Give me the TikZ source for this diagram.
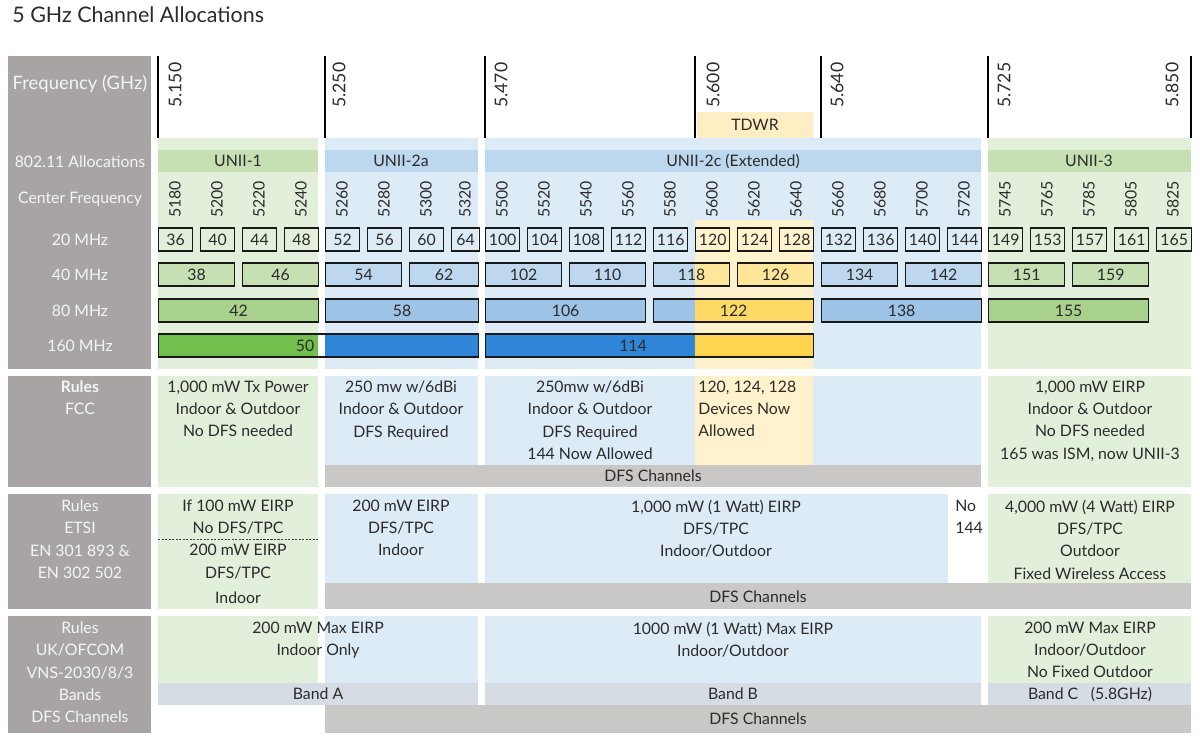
\documentclass[tikz,border=0pt]{standalone}
\usepackage{fontspec}
\setmainfont{Lato}
\usepackage{tikz}

\definecolor{sidegrey}{HTML}{A8A4A4}
\definecolor{sidetxt}{HTML}{F5F5F5}
\definecolor{dfsgrey}{HTML}{CAC7C7}
\definecolor{bandgrey}{HTML}{D6DCE4}
\definecolor{txt}{HTML}{2B2B2B}
\definecolor{gbg}{HTML}{E2EFDA}
\definecolor{gbar}{HTML}{C6E0B4}
\definecolor{geighty}{HTML}{A9D18E}
\definecolor{gwide}{HTML}{72BF4E}
\definecolor{bbg}{HTML}{DDEBF7}
\definecolor{bbar}{HTML}{BDD7EE}
\definecolor{beighty}{HTML}{9DC3E6}
\definecolor{bwide}{HTML}{2F85D8}
\definecolor{ybg}{HTML}{FFF2CC}
\definecolor{ytdwr}{HTML}{FFEEC4}
\definecolor{yforty}{HTML}{FFE699}
\definecolor{yeighty}{HTML}{FFD966}
\definecolor{ywide}{HTML}{FFD54F}

\tikzset{
  every node/.style={font=\fontsize{9}{12.7}\selectfont, text=txt, inner sep=0pt},
  one/.style={text height=6.5pt, text depth=0pt},
  block/.style={anchor=north, align=center},
  side/.style={text=sidetxt},
  rot/.style={rotate=90, anchor=west, one},
  bigrot/.style={rot, font=\fontsize{10}{12}\selectfont, text height=7.2pt},
  ch/.style={draw=black!90, line width=0.75pt, minimum height=0.46cm, anchor=west, one},
  chtwenty/.style={ch, minimum width=0.68cm},
  chforty/.style={ch, minimum width=1.52cm},
  cheighty/.style={ch, minimum width=3.2cm},
  tick/.style={draw=black, line width=0.8pt},
}

\begin{document}
\begin{tikzpicture}[x=0.02cm, y=-0.02cm]
    \useasboundingbox (0,0) rectangle (1200,739);

    \node[anchor=west, one, font=\fontsize{12.2}{14}\selectfont, text height=8.8pt] (title) at (12,15) {5 GHz Channel Allocations};

    % grey side column
    \fill[sidegrey] (8,56) rectangle (151,369);
    \fill[sidegrey] (8,376) rectangle (151,487);
    \fill[sidegrey] (8,494) rectangle (151,609);
    \fill[sidegrey] (8,616) rectangle (151,733);

    % channel plan backgrounds
    \fill[gbg] (158,138) rectangle (318,369);
    \fill[bbg] (325,138) rectangle (478,369);
    \fill[bbg] (485,138) rectangle (981,369);
    \fill[ybg] (695,220) rectangle (813,369);
    \fill[gbg] (988,138) rectangle (1191,369);
    \fill[ytdwr] (697,112) rectangle (813,138);
    \fill[gbar] (158,150) rectangle (318,172);
    \fill[bbar] (325,150) rectangle (478,172);
    \fill[bbar] (485,150) rectangle (981,172);
    \fill[gbar] (988,150) rectangle (1191,172);

    % FCC backgrounds
    \fill[gbg] (158,376) rectangle (318,487);
    \fill[bbg] (325,376) rectangle (478,465);
    \fill[bbg] (485,376) rectangle (981,465);
    \fill[ybg] (695,376) rectangle (813,465);
    \fill[dfsgrey] (325,465) rectangle (981,487);
    \fill[gbg] (988,376) rectangle (1191,487);

    % ETSI backgrounds
    \fill[gbg] (158,494) rectangle (318,609);
    \fill[bbg] (325,494) rectangle (478,583);
    \fill[bbg] (485,494) rectangle (948,583);
    \fill[gbg] (988,494) rectangle (1191,583);
    \fill[dfsgrey] (325,583) rectangle (1191,609);

    % OFCOM backgrounds
    \fill[gbg] (158,616) rectangle (318,683);
    \fill[bbg] (325,616) rectangle (478,683);
    \fill[bbg] (485,616) rectangle (981,683);
    \fill[gbg] (988,616) rectangle (1191,683);
    \fill[bandgrey] (158,683) rectangle (478,705);
    \fill[bandgrey] (485,683) rectangle (981,705);
    \fill[bandgrey] (988,683) rectangle (1191,705);
    \fill[dfsgrey] (325,705) rectangle (1191,733);

    % side labels
    \node[side, one, font=\fontsize{10.5}{12}\selectfont, text height=7.5pt] (lfreq) at (80,83) {Frequency (GHz)};
    \node[side, one] (lalloc) at (80,162) {802.11 Allocations};
    \node[side, one] (lcenter) at (80,198) {Center Frequency};
    \node[side, one] (ltwenty) at (80,240) {20 MHz};
    \node[side, one] (lforty) at (80,275) {40 MHz};
    \node[side, one] (leighty) at (80,311) {80 MHz};
    \node[side, one] (lwide) at (80,346) {160 MHz};

    % band edges
    \draw[tick] (158,56) -- (158,138);
    \draw[tick] (325,56) -- (325,138);
    \draw[tick] (485,56) -- (485,138);
    \draw[tick] (695,56) -- (695,138);
    \draw[tick] (821,56) -- (821,138);
    \draw[tick] (988,56) -- (988,138);
    \draw[tick] (1191,56) -- (1191,138);
    \node[bigrot] (g5150) at (175,108) {5.150};
    \node[bigrot] (g5250) at (339,108) {5.250};
    \node[bigrot] (g5470) at (501,108) {5.470};
    \node[bigrot] (g5600) at (713,108) {5.600};
    \node[bigrot] (g5640) at (837,108) {5.640};
    \node[bigrot] (g5725) at (1004,108) {5.725};
    \node[bigrot] (g5850) at (1172,108) {5.850};
    \node[one] (tdwr) at (755,125) {TDWR};

    \node[one] (u1) at (238,161) {UNII-1};
    \node[one] (u2a) at (401,161) {UNII-2a};
    \node[one] (u2c) at (733,161) {UNII-2c (Extended)};
    \node[one] (u3) at (1089,161) {UNII-3};

    % center frequencies
    \node[rot] (m5180) at (175,218) {5180};
    \node[rot] (m5200) at (217,218) {5200};
    \node[rot] (m5220) at (259,218) {5220};
    \node[rot] (m5240) at (301,218) {5240};
    \node[rot] (m5260) at (342,218) {5260};
    \node[rot] (m5280) at (384,218) {5280};
    \node[rot] (m5300) at (426,218) {5300};
    \node[rot] (m5320) at (465,218) {5320};
    \node[rot] (m5500) at (502,218) {5500};
    \node[rot] (m5520) at (544,218) {5520};
    \node[rot] (m5540) at (586,218) {5540};
    \node[rot] (m5560) at (628,218) {5560};
    \node[rot] (m5580) at (670,218) {5580};
    \node[rot] (m5600) at (712,218) {5600};
    \node[rot] (m5620) at (754,218) {5620};
    \node[rot] (m5640) at (796,218) {5640};
    \node[rot] (m5660) at (838,218) {5660};
    \node[rot] (m5680) at (880,218) {5680};
    \node[rot] (m5700) at (922,218) {5700};
    \node[rot] (m5720) at (964,218) {5720};
    \node[rot] (m5745) at (1005,218) {5745};
    \node[rot] (m5765) at (1047,218) {5765};
    \node[rot] (m5785) at (1089,218) {5785};
    \node[rot] (m5805) at (1131,218) {5805};
    \node[rot] (m5825) at (1173,218) {5825};

    % 20 MHz
    \node[chtwenty] (c36) at (158,239.5) {36};
    \node[chtwenty] (c40) at (200,239.5) {40};
    \node[chtwenty] (c44) at (242,239.5) {44};
    \node[chtwenty] (c48) at (284,239.5) {48};
    \node[chtwenty] (c52) at (325,239.5) {52};
    \node[chtwenty] (c56) at (367,239.5) {56};
    \node[chtwenty] (c60) at (409,239.5) {60};
    \node[chtwenty, minimum width=0.56cm] (c64) at (451,239.5) {64};
    \node[chtwenty] (c100) at (485,239.5) {100};
    \node[chtwenty] (c104) at (527,239.5) {104};
    \node[chtwenty] (c108) at (569,239.5) {108};
    \node[chtwenty] (c112) at (611,239.5) {112};
    \node[chtwenty] (c116) at (653,239.5) {116};
    \node[chtwenty] (c120) at (695,239.5) {120};
    \node[chtwenty] (c124) at (737,239.5) {124};
    \node[chtwenty] (c128) at (779,239.5) {128};
    \node[chtwenty] (c132) at (821,239.5) {132};
    \node[chtwenty] (c136) at (863,239.5) {136};
    \node[chtwenty] (c140) at (905,239.5) {140};
    \node[chtwenty] (c144) at (947,239.5) {144};
    \node[chtwenty] (c149) at (988,239.5) {149};
    \node[chtwenty] (c153) at (1030,239.5) {153};
    \node[chtwenty] (c157) at (1072,239.5) {157};
    \node[chtwenty] (c161) at (1114,239.5) {161};
    \node[chtwenty, minimum width=0.7cm] (c165) at (1156,239.5) {165};

    % 40 MHz
    \fill[bbar] (653,263) rectangle (695,286);
    \fill[yforty] (695,263) rectangle (729,286);
    \node[chforty, fill=gbar] (c38) at (158,274.5) {38};
    \node[chforty, fill=gbar] (c46) at (242,274.5) {46};
    \node[chforty, fill=bbar] (c54) at (325,274.5) {54};
    \node[chforty, fill=bbar, minimum width=1.38cm] (c62) at (409,274.5) {62};
    \node[chforty, fill=bbar] (c102) at (485,274.5) {102};
    \node[chforty, fill=bbar] (c110) at (569,274.5) {110};
    \node[chforty] (c118) at (653,274.5) {118};
    \node[chforty, fill=yforty] (c126) at (737,274.5) {126};
    \node[chforty, fill=bbar] (c134) at (821,274.5) {134};
    \node[chforty, fill=bbar] (c142) at (905,274.5) {142};
    \node[chforty, fill=gbar] (c151) at (988,274.5) {151};
    \node[chforty, fill=gbar] (c159) at (1072,274.5) {159};

    % 80 MHz
    \fill[beighty] (653,299) rectangle (695,322);
    \fill[yeighty] (695,299) rectangle (813,322);
    \node[cheighty, fill=geighty] (c42) at (158,310.5) {42};
    \node[cheighty, fill=beighty, minimum width=3.06cm] (c58) at (325,310.5) {58};
    \node[cheighty, fill=beighty] (c106) at (485,310.5) {106};
    \node[cheighty] (c122) at (653,310.5) {122};
    \node[cheighty, fill=beighty] (c138) at (821,310.5) {138};
    \node[cheighty, fill=geighty] (c155) at (988,310.5) {155};

    % 160 MHz
    \fill[gwide] (158,334) rectangle (318,357);
    \fill[white] (318,334) rectangle (325,357);
    \fill[bwide] (325,334) rectangle (478,357);
    \fill[bwide] (485,334) rectangle (695,357);
    \fill[ywide] (695,334) rectangle (813,357);
    \node[ch, minimum width=6.4cm] (c50) at (158,345.5) {};
    \node[one] (t50) at (305,345.5) {50};
    \node[ch, minimum width=6.56cm] (c114) at (485,345.5) {};
    \node[one] (t114) at (633,345.5) {114};

    % FCC
    \node[side, block] (rfcc) at (80,380.5) {\textbf{Rules}\\FCC};
    \node[block] (fcca) at (238,380.5) {1,000 mW Tx Power\\Indoor \& Outdoor\\No DFS needed};
    \node[block] (fccb) at (401,380.5) {250 mw w/6dBi\\Indoor \& Outdoor\\DFS Required};
    \node[block] (fccc) at (590,380.5) {250mw w/6dBi\\Indoor \& Outdoor\\DFS Required\\144 Now Allowed};
    \node[block, anchor=north west, align=left] (fcct) at (698,380.5) {120, 124, 128\\Devices Now\\Allowed};
    \node[block] (fccd) at (1090,380.5) {1,000 mW EIRP\\Indoor \& Outdoor\\No DFS needed\\165 was ISM, now UNII-3};
    \node[one] (dfsa) at (653,476) {DFS Channels};

    % ETSI
    \node[side, block] (retsi) at (80,499.5) {Rules\\ETSI\\EN 301 893 \&\\EN 302 502};
    \node[block] (etsia) at (238,499.5) {If 100 mW EIRP\\No DFS/TPC\\200 mW EIRP\\DFS/TPC};
    \draw[black!75, line width=0.5pt, dash pattern=on 1.2pt off 0.8pt] (158,539) -- (318,539);
    \node[one] (etsiin) at (238,598) {Indoor};
    \node[block] (etsib) at (401,499.5) {200 mW EIRP\\DFS/TPC\\Indoor};
    \node[block] (etsic) at (716,499.5) {1,000 mW (1 Watt) EIRP\\DFS/TPC\\Indoor/Outdoor};
    \node[block, anchor=north west, align=left] (etsino) at (955,499.5) {No\\144};
    \node[block] (etsid) at (1090,499.5) {4,000 mW (4 Watt) EIRP\\DFS/TPC\\Outdoor\\Fixed Wireless Access};
    \node[one] (dfsb) at (758,597) {DFS Channels};

    % UK / OFCOM
    \node[side, block] (rofcom) at (80,621.5) {Rules\\UK/OFCOM\\VNS-2030/8/3\\Bands\\DFS Channels};
    \node[block] (ofa) at (318,621.5) {200 mW Max EIRP\\Indoor Only};
    \node[block] (ofb) at (733,621.5) {1000 mW (1 Watt) Max EIRP\\Indoor/Outdoor};
    \node[block] (ofc) at (1090,621.5) {200 mW Max EIRP\\Indoor/Outdoor\\No Fixed Outdoor};
    \node[one] (banda) at (318,694) {Band A};
    \node[one] (bandb) at (733,694) {Band B};
    \node[one] (bandc) at (1090,694) {Band C\hspace{0.8em}(5.8GHz)};
    \node[one] (dfsc) at (758,719) {DFS Channels};

\end{tikzpicture}
\end{document}
